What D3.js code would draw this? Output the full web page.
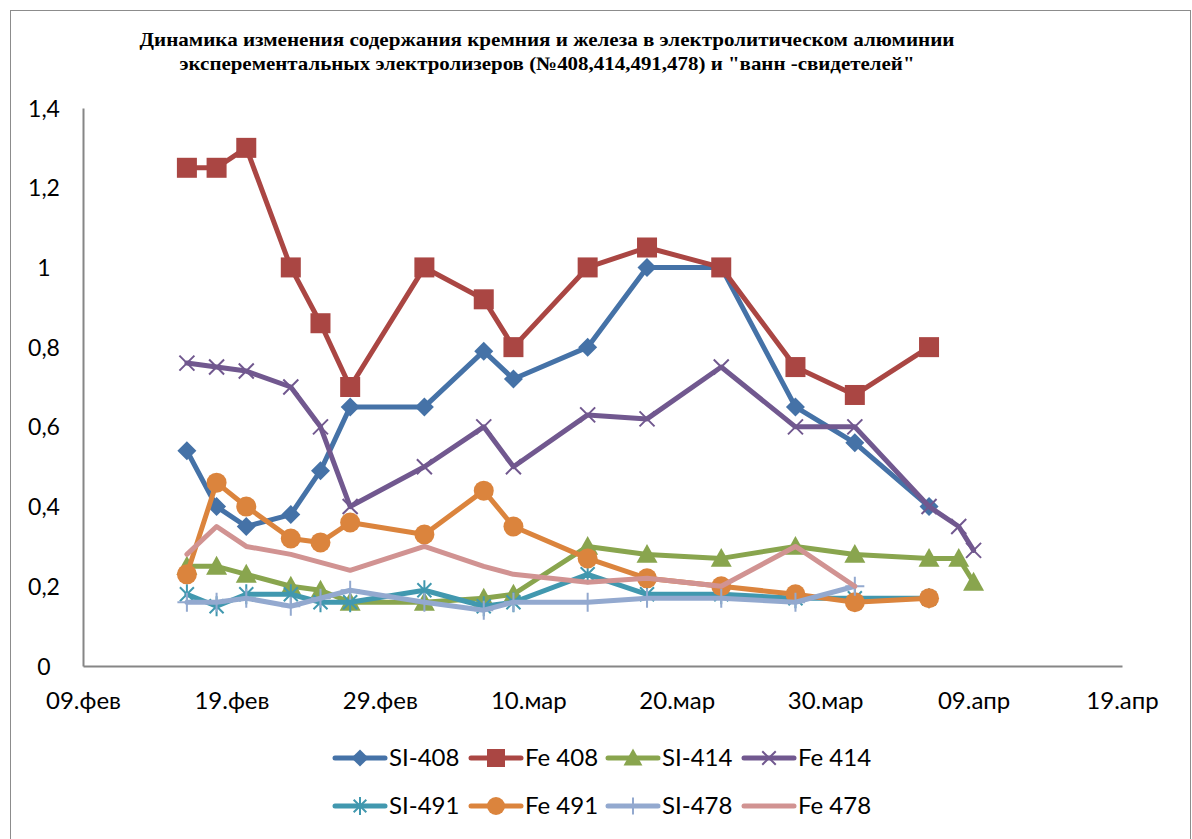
<!DOCTYPE html>
<html>
<head>
<meta charset="utf-8">
<script src="https://cdn.jsdelivr.net/npm/d3@7"></script>
<style>
  body { margin: 0; background: #fff; }
  svg { display: block; }
</style>
</head>
<body>
<div id="chart"></div>
<script>
// the measurement dates (2012, so february has a 29th)
const dates = ["2012-02-16", "2012-02-18", "2012-02-20", "2012-02-23", "2012-02-25", "2012-02-27",
  "2012-03-03", "2012-03-07", "2012-03-09", "2012-03-14", "2012-03-18", "2012-03-23",
  "2012-03-28", "2012-04-01", "2012-04-06", "2012-04-08", "2012-04-09"];

// values per series, null where nothing was measured
const si408 = [0.54, 0.40, 0.35, 0.38, 0.49, 0.65, 0.65, 0.79, 0.72, 0.80, 1.00, 1.00, 0.65, 0.56, 0.40, null, null];
const fe408 = [1.25, 1.25, 1.30, 1.00, 0.86, 0.70, 1.00, 0.92, 0.80, 1.00, 1.05, 1.00, 0.75, 0.68, 0.80, null, null];
const si414 = [0.25, 0.25, 0.23, 0.20, 0.19, 0.16, 0.16, 0.17, 0.18, 0.30, 0.28, 0.27, 0.30, 0.28, 0.27, 0.27, 0.21];
const fe414 = [0.76, 0.75, 0.74, 0.70, 0.60, 0.40, 0.50, 0.60, 0.50, 0.63, 0.62, 0.75, 0.60, 0.60, 0.40, 0.35, 0.29];
const si491 = [0.18, 0.15, 0.18, 0.18, 0.16, 0.16, 0.19, 0.15, 0.16, 0.23, 0.18, 0.18, 0.17, 0.17, 0.17, null, null];
const fe491 = [0.23, 0.46, 0.40, 0.32, 0.31, 0.36, 0.33, 0.44, 0.35, 0.27, 0.22, 0.20, 0.18, 0.16, 0.17, null, null];
const si478 = [0.16, 0.16, 0.17, 0.15, 0.17, 0.19, 0.16, 0.14, 0.16, 0.16, 0.17, 0.17, 0.16, 0.20, null, null, null];
const fe478 = [0.28, 0.35, 0.30, 0.28, 0.26, 0.24, 0.30, 0.25, 0.23, 0.21, 0.22, 0.20, 0.30, 0.20, null, null, null];

const seriesNames = ["SI-408", "Fe 408", "SI-414", "Fe 414", "SI-491", "Fe 491", "SI-478", "Fe 478"];

// axis stuff
const tickDates = ["2012-02-09", "2012-02-19", "2012-02-29", "2012-03-10", "2012-03-20", "2012-03-30", "2012-04-09", "2012-04-19"];
const tickLabels = ["09.фев", "19.фев", "29.фев", "10.мар", "20.мар", "30.мар", "09.апр", "19.апр"];
const yTicks = [0, 0.2, 0.4, 0.6, 0.8, 1, 1.2, 1.4];
const yTickLabels = ["0", "0,2", "0,4", "0,6", "0,8", "1", "1,2", "1,4"];

const titleLines = [
  "Динамика изменения содержания кремния и железа в электролитическом алюминии",
  "эксперементальных электролизеров (№408,414,491,478) и \"ванн -свидетелей\""
];

// looks of each series, excel 2007 palette
const styles = [
  { color: "#4572A7", marker: "diamond" },
  { color: "#AA4643", marker: "square" },
  { color: "#89A54E", marker: "triangle" },
  { color: "#71588F", marker: "x" },
  { color: "#4198AF", marker: "star" },
  { color: "#DB843D", marker: "circle" },
  { color: "#93A9CF", marker: "plus" },
  { color: "#D19392", marker: "none" }
];

const allValues = [si408, fe408, si414, fe414, si491, fe491, si478, fe478];

const W = 1192, H = 839;
const parse = d3.utcParse("%Y-%m-%d");
const labelFont = "Lato, 'Open Sans', sans-serif";

const svg = d3.select("#chart").append("svg").attr("width", W).attr("height", H);

// outer frame of the chart object
svg.append("rect").attr("x", 10.5).attr("y", 10.5).attr("width", 1180).attr("height", 840)
  .attr("fill", "#fff").attr("stroke", "#8c8c8c").attr("stroke-width", 1);

const x = d3.scaleUtc()
  .domain([parse(tickDates[0]), parse(tickDates[tickDates.length - 1])])
  .range([83, 1122]);
const y = d3.scaleLinear().domain([0, 1.4]).range([666, 108]);

// title, condensed serif like the original
svg.selectAll("text.title").data(titleLines).join("text")
  .attr("class", "title")
  .attr("x", 547).attr("y", (d, i) => 46 + i * 24)
  .attr("text-anchor", "middle")
  .attr("font-family", "'Liberation Serif', 'DejaVu Serif', serif")
  .attr("font-weight", "bold")
  .attr("font-size", 19)
  .attr("textLength", (d, i) => i === 0 ? 815 : 735)
  .attr("lengthAdjust", "spacingAndGlyphs")
  .text(d => d);

// x axis
const xAxis = d3.axisBottom(x)
  .tickValues(tickDates.map(parse))
  .tickFormat((d, i) => tickLabels[i])
  .tickSize(0).tickPadding(0);
const gx = svg.append("g").attr("transform", "translate(0,666)").call(xAxis);
gx.select(".domain").attr("stroke", "#868686").attr("stroke-width", 2);
gx.selectAll("text").attr("font-family", labelFont).attr("font-size", 24)
  .attr("fill", "#000").attr("dy", 0).attr("y", 43);

// y axis - no line ticks, labels centered on ~45
const yAxis = d3.axisLeft(y).tickValues(yTicks).tickFormat((d, i) => yTickLabels[i]).tickSize(0).tickPadding(0);
const gy = svg.append("g").attr("transform", "translate(83,0)").call(yAxis);
gy.select(".domain").attr("stroke", "#868686").attr("stroke-width", 2);
gy.selectAll("text").attr("font-family", labelFont).attr("font-size", 23)
  .attr("fill", "#000").attr("text-anchor", "middle").attr("x", -39).attr("dy", "0.35em");

// markers
function drawMarker(g, type, color, size) {
  const s = size / 2;
  if (type === "diamond") {
    g.append("path").attr("d", `M0,${-s}L${s},0L0,${s}L${-s},0Z`).attr("fill", color);
  } else if (type === "square") {
    g.append("rect").attr("x", -s).attr("y", -s).attr("width", size).attr("height", size).attr("fill", color);
  } else if (type === "triangle") {
    g.append("path").attr("d", `M0,${-s}L${s},${s * 0.8}L${-s},${s * 0.8}Z`).attr("fill", color);
  } else if (type === "circle") {
    g.append("circle").attr("r", s).attr("fill", color);
  } else if (type === "x") {
    const k = s * 0.75;
    g.append("path").attr("d", `M${-k},${-k}L${k},${k}M${-k},${k}L${k},${-k}`)
      .attr("stroke", color).attr("stroke-width", 2).attr("fill", "none");
  } else if (type === "star") {
    const k = s * 0.7;
    g.append("path").attr("d", `M${-k},${-k}L${k},${k}M${-k},${k}L${k},${-k}M0,${-s}L0,${s}`)
      .attr("stroke", color).attr("stroke-width", 2).attr("fill", "none");
  } else if (type === "plus") {
    g.append("path").attr("d", `M0,${-s}L0,${s}M${-s},0L${s},0`)
      .attr("stroke", color).attr("stroke-width", 2).attr("fill", "none");
  }
}

const markerSize = { diamond: 19, square: 20, triangle: 21, circle: 20, x: 20, star: 20, plus: 19, none: 0 };

const line = d3.line()
  .defined(d => d.v !== null)
  .x(d => x(d.date))
  .y(d => y(d.v));

allValues.forEach((vals, si) => {
  const st = styles[si];
  const pts = vals.map((v, i) => ({ date: parse(dates[i]), v: v }));
  const g = svg.append("g").attr("class", "series");
  g.append("path").datum(pts).attr("d", line)
    .attr("fill", "none").attr("stroke", st.color).attr("stroke-width", 5)
    .attr("stroke-linejoin", "round").attr("stroke-linecap", "round");
  pts.filter(p => p.v !== null).forEach(p => {
    const m = g.append("g").attr("transform", `translate(${x(p.date)},${y(p.v)})`);
    drawMarker(m, st.marker, st.color, markerSize[st.marker]);
  });
});

// legend, 2 rows x 4
const legendX = [333, 469, 606, 742];
const legendY = [758, 806];
seriesNames.forEach((name, i) => {
  const st = styles[i];
  const lx = legendX[i % 4], ly = legendY[Math.floor(i / 4)];
  const g = svg.append("g").attr("transform", `translate(${lx},${ly})`);
  g.append("line").attr("x1", 2).attr("x2", 52).attr("y1", 0).attr("y2", 0)
    .attr("stroke", st.color).attr("stroke-width", 5).attr("stroke-linecap", "round");
  const m = g.append("g").attr("transform", "translate(27,0)");
  drawMarker(m, st.marker, st.color, markerSize[st.marker] * 0.9);
  g.append("text").attr("x", 56).attr("y", 0).attr("dy", "0.35em")
    .attr("font-family", labelFont).attr("font-size", 24)
    .attr("fill", "#000").text(name);
});
</script>
</body>
</html>
